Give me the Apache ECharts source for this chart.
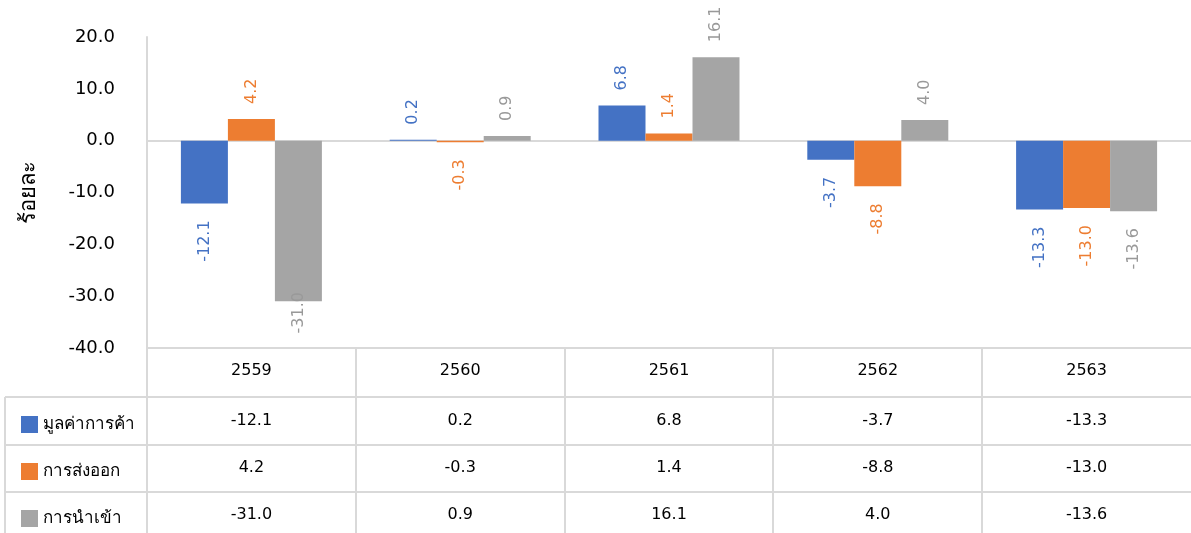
<!DOCTYPE html>
<html><head><meta charset="utf-8">
<script src="https://cdn.jsdelivr.net/npm/echarts@6/dist/echarts.min.js"></script>
<style>html,body{margin:0;padding:0;background:#fff}#c{width:1191px;height:533px}</style>
</head><body><div id="c"></div>
<script>
const categories = ['2559', '2560', '2561', '2562', '2563'];
const seriesNames = ['มูลค่าการค้า', 'การส่งออก', 'การนำเข้า'];
const tradeValue = [-12.1, 0.2, 6.8, -3.7, -13.3];
const exportsV = [4.2, -0.3, 1.4, -8.8, -13.0];
const importsV = [-31.0, 0.9, 16.1, 4.0, -13.6];
const yTicks = { min: -40, max: 20, interval: 10 };
const yName = 'ร้อยละ';

const allValues = [tradeValue, exportsV, importsV];
const colors = ['#4472C4', '#ED7D31', '#A5A5A5'];
const labelColors = ['#4472C4', '#ED7D31', '#999999'];
const FONT = 'Tahoma, "DejaVu Sans", "Noto Sans", sans-serif';

const W = 1191, H = 533;
const gLeft = 147, gTop = 37, gBottom = 185;
const tableTop = H - gBottom;
const rowCenters = [421, 468, 515];
const pxPerUnit = (H - gBottom - gTop) / (yTicks.max - yTicks.min);

const chart = echarts.init(document.getElementById('c'), null, { renderer: 'canvas' });

function mkData(arr) {
  return arr.map(v => {
    const room = (v - yTicks.min) * pxPerUnit;
    return {
      value: v,
      label: {
        position: v >= 0 ? 'top' : 'bottom',
        align: v >= 0 ? 'left' : 'right',
        distance: v >= 0 ? 15 : Math.min(17, room - 56)
      }
    };
  });
}

const series = allValues.map((arr, i) => ({
  name: seriesNames[i],
  type: 'bar',
  xAxisIndex: 0,
  data: mkData(arr),
  barWidth: 47,
  barGap: '0%',
  itemStyle: { color: colors[i] },
  label: {
    show: true,
    rotate: 90,
    verticalAlign: 'middle',
    color: labelColors[i],
    fontSize: 16,
    fontFamily: FONT,
    formatter: p => p.value.toFixed(1)
  }
}));

const extraX = allValues.map((arr, i) => ({
  type: 'category',
  gridIndex: 0,
  data: categories,
  position: 'bottom',
  offset: rowCenters[i] - tableTop - 14 - 8,
  axisLine: { show: false, onZero: false },
  axisTick: { show: false },
  axisLabel: {
    margin: 14,
    color: '#000',
    fontSize: 16,
    fontFamily: FONT,
    formatter: (val, idx) => arr[idx].toFixed(1)
  }
}));

// table lines
const lines = [];
const lineStyle = { stroke: '#d9d9d9', lineWidth: 2 };
const catW = (W - gLeft) / categories.length;
lines.push({ type: 'line', shape: { x1: gLeft, y1: tableTop, x2: W, y2: tableTop }, style: lineStyle, silent: true });
[tableTop + 49, tableTop + 97, tableTop + 144].forEach(y => {
  lines.push({ type: 'line', shape: { x1: 5, y1: y, x2: W, y2: y }, style: lineStyle, silent: true });
});
for (let k = 0; k < categories.length; k++) {
  const x = Math.round(gLeft + k * catW);
  lines.push({ type: 'line', shape: { x1: x, y1: tableTop, x2: x, y2: H }, style: lineStyle, silent: true });
}
lines.push({ type: 'line', shape: { x1: 5, y1: tableTop + 49, x2: 5, y2: H }, style: lineStyle, silent: true });

chart.setOption({
  animation: false,
  backgroundColor: '#fff',
  textStyle: { fontFamily: FONT },
  grid: { left: gLeft, right: 0, top: gTop, bottom: gBottom, containLabel: false },
  legend: {
    orient: 'vertical',
    left: 16,
    top: tableTop + 63,
    itemWidth: 17,
    itemHeight: 17,
    itemGap: 30,
    icon: 'rect',
    data: seriesNames,
    textStyle: { color: '#000', fontSize: 17, fontFamily: FONT }
  },
  xAxis: [{
    type: 'category',
    data: categories,
    axisLine: { show: true, onZero: true, lineStyle: { color: '#d9d9d9', width: 2 } },
    axisTick: { show: false },
    axisLabel: {
      show: true,
      margin: 15,
      color: '#000',
      fontSize: 16,
      fontFamily: FONT
    },
    position: 'bottom'
  }].concat(extraX),
  yAxis: {
    type: 'value',
    min: yTicks.min,
    max: yTicks.max,
    interval: yTicks.interval,
    name: yName,
    nameLocation: 'middle',
    nameGap: 107,
    nameRotate: 90,
    nameTextStyle: { color: '#000', fontSize: 22, fontFamily: FONT },
    axisLine: { show: true, lineStyle: { color: '#d9d9d9', width: 2 } },
    axisTick: { show: false },
    splitLine: { show: false },
    axisLabel: {
      color: '#000',
      fontSize: 18,
      margin: 32,
      fontFamily: FONT,
      formatter: v => v.toFixed(1)
    }
  },
  series: series,
  graphic: lines
});
</script></body></html>
